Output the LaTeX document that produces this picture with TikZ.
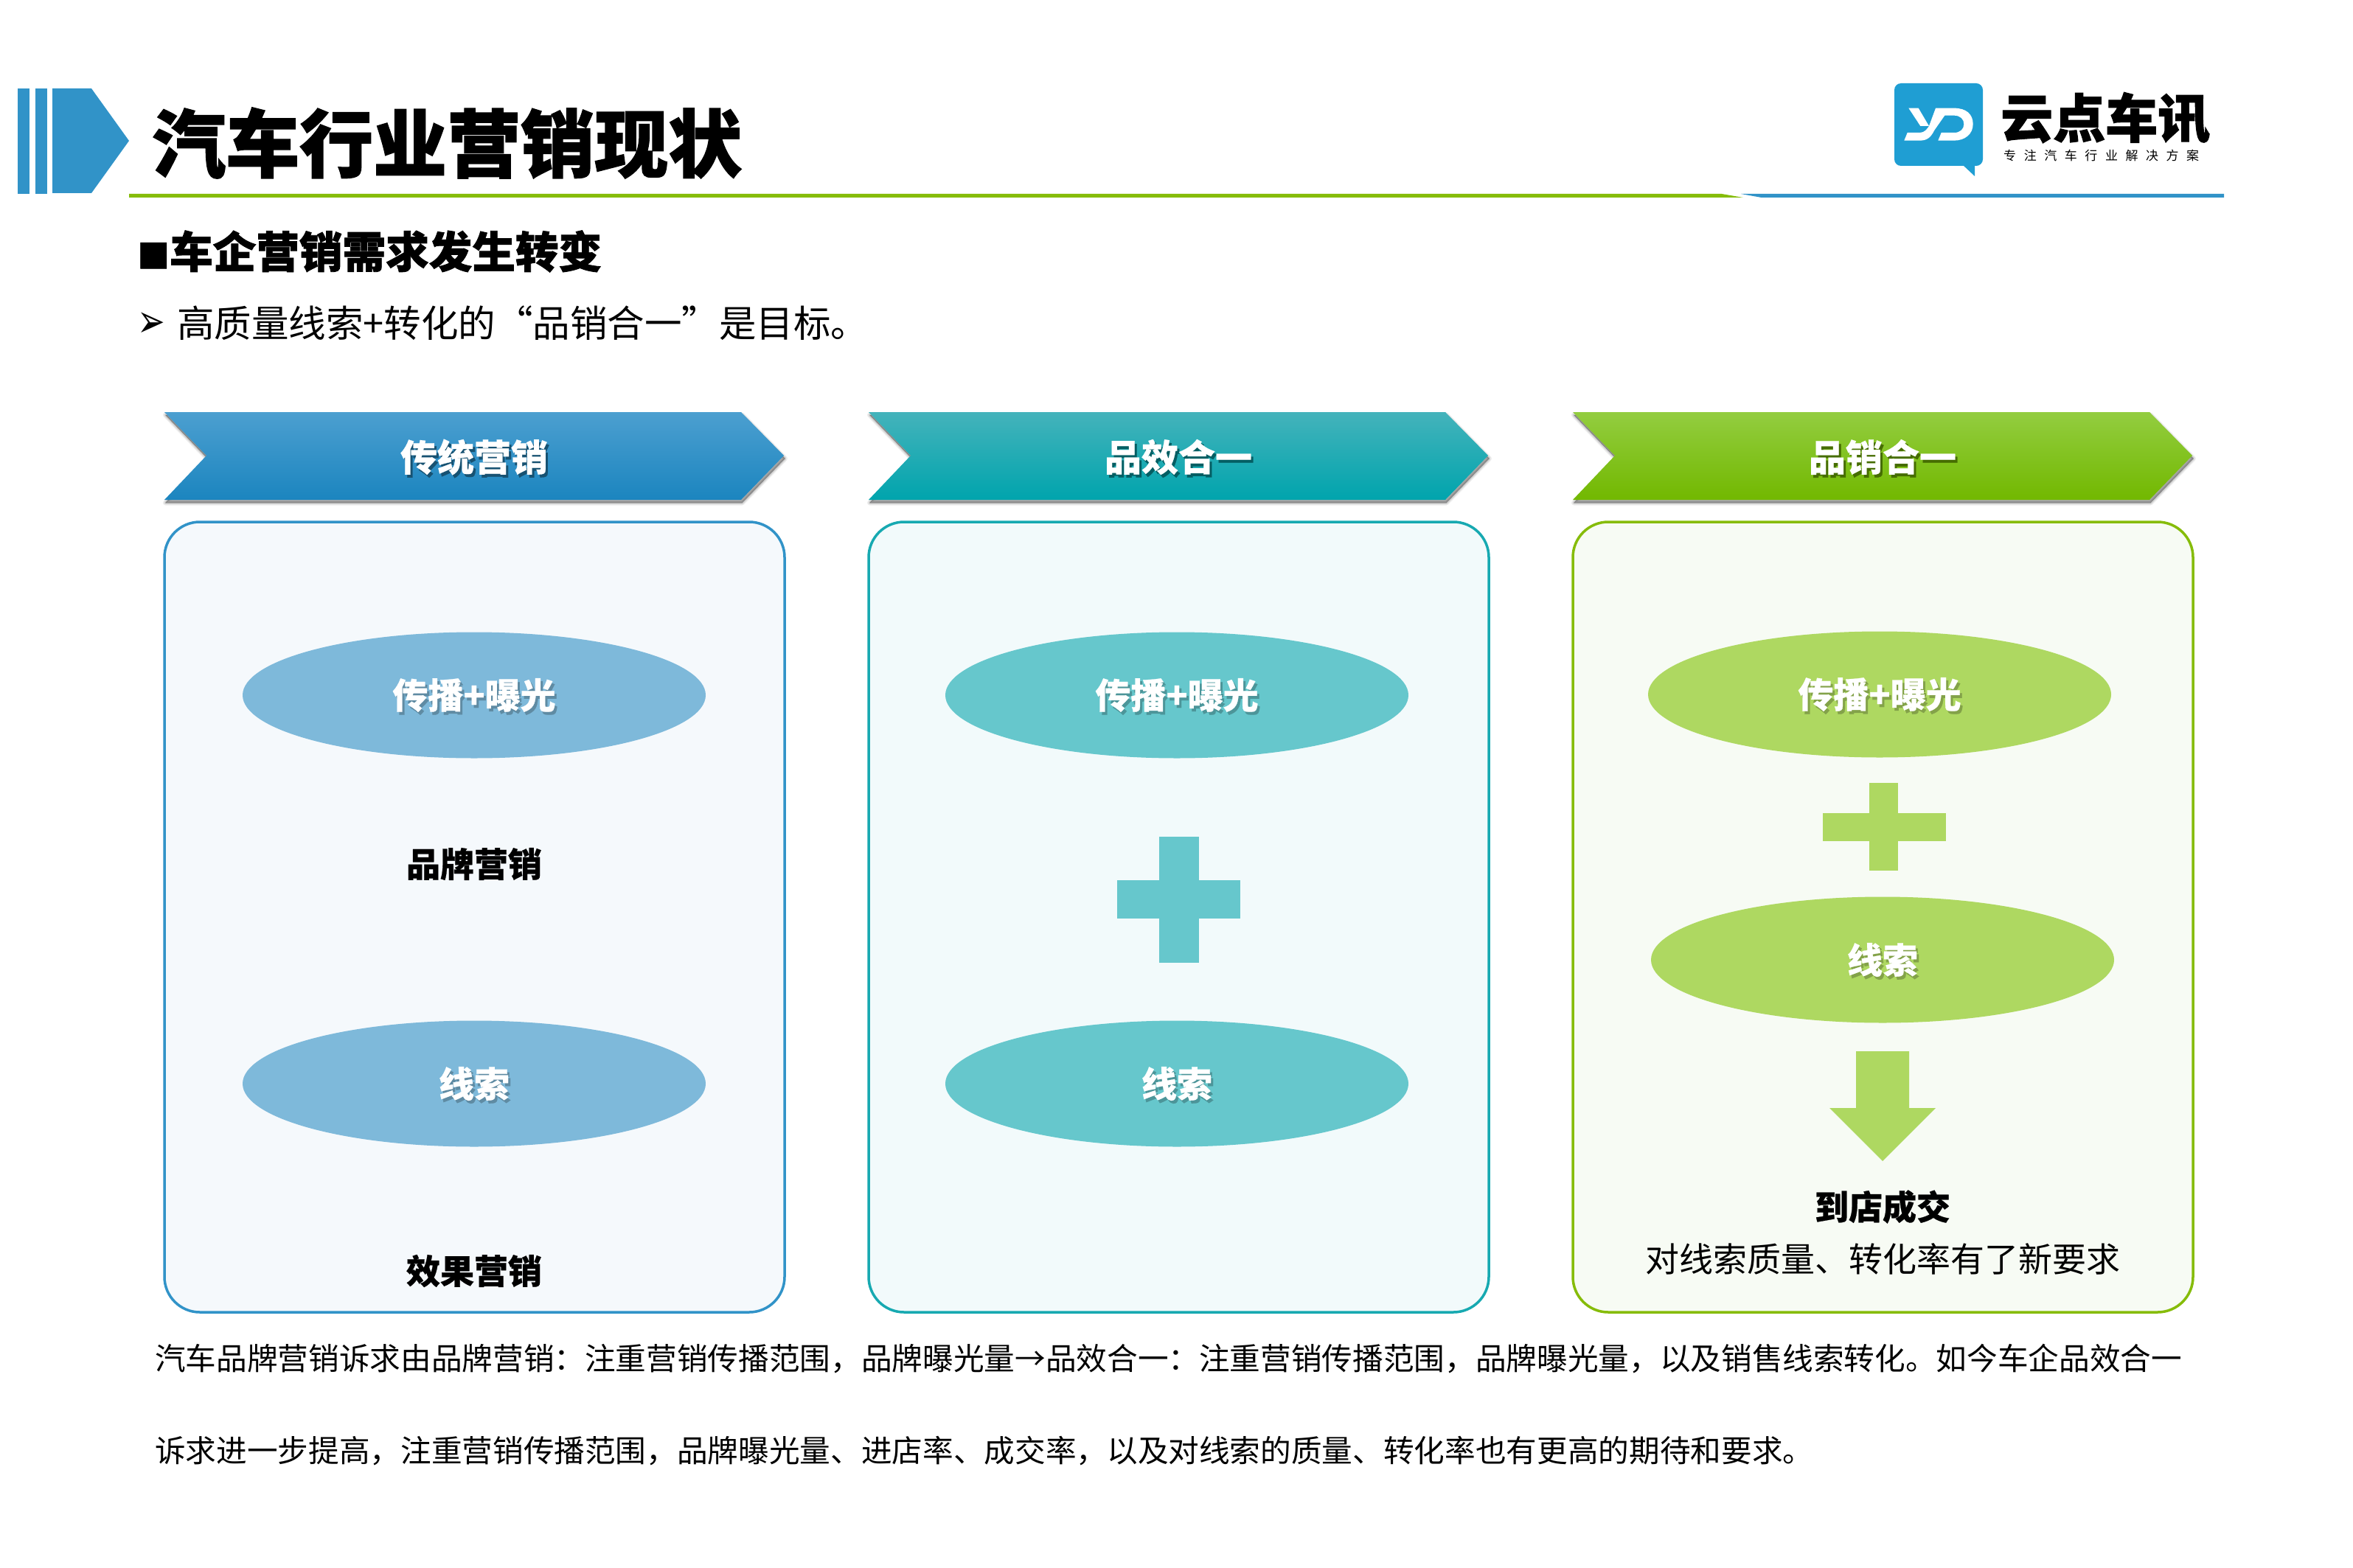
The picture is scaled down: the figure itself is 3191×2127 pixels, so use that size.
\documentclass[tikz,border=0pt]{standalone}
\usepackage{fontspec}
\usepackage{graphicx}
\setmainfont{Noto Sans CJK SC}
\newfontfamily\cjkx[BoldFeatures={FakeBold=1.4}]{Noto Sans CJK SC}
\newfontfamily\cjky[BoldFeatures={FakeBold=0.5}]{Noto Sans CJK SC}
\newfontfamily\djv{DejaVu Sans}
\usetikzlibrary{shapes.geometric}
\definecolor{cBlue}{HTML}{3193C8}
\definecolor{cBlueEll}{HTML}{7EB9DA}
\definecolor{cBlueFill}{HTML}{F5F9FC}
\definecolor{cBlueA}{HTML}{4C9FD0}
\definecolor{cBlueB}{HTML}{2A95D0}
\definecolor{cBlueC}{HTML}{1B85BF}
\definecolor{cTeal}{HTML}{17A9B1}
\definecolor{cTealEll}{HTML}{66C7CC}
\definecolor{cTealFill}{HTML}{F2FAFB}
\definecolor{cTealA}{HTML}{44B3BB}
\definecolor{cTealB}{HTML}{07ABB5}
\definecolor{cTealC}{HTML}{00A4AD}
\definecolor{cGreen}{HTML}{86BC0A}
\definecolor{cGreenEll}{HTML}{AED861}
\definecolor{cGreenFill}{HTML}{F7FBF4}
\definecolor{cGreenA}{HTML}{93CD40}
\definecolor{cGreenB}{HTML}{7FC702}
\definecolor{cGreenC}{HTML}{72B800}
\definecolor{cLogo}{HTML}{1F9ED3}
\newcommand{\fs}[1]{\fontsize{#1}{#1}\selectfont}
\newcommand{\shtxt}[2]{\rlap{\kern3pt\smash{\raisebox{-4pt}{\textcolor{#1}{#2}}}}#2}
\def\chevpath{(223,559) -- (1005,559) -- (1063,618) -- (1005,678) -- (223,678) -- (280,618) -- cycle}
\newcommand{\column}[2]{% dx, colour name
  \begin{scope}[shift={(#1,0)}]
    \foreach \w/\o in {7/.07,4/.10,1/.16}
      \filldraw[black,opacity=\o,line width=\w pt,line join=round,shift={(1.5,4)}] \chevpath;
    \path[top color=#2A,middle color=#2B,bottom color=#2C,shading angle=0] \chevpath;
    \draw[draw=#2,fill=#2Fill,line width=3.5pt,rounded corners=48pt] (223,708) rectangle (1064,1780);
  \end{scope}}
\tikzset{
  pill/.style={ellipse,inner sep=0pt,minimum width=628pt,minimum height=171pt,text=white,font=\cjky\bfseries\fs{48}},
  hdtxt/.style={text=white,font=\cjky\bfseries\fs{50},inner sep=0pt},
  boldlab/.style={text=black,font=\cjky\bfseries\fs{46},inner sep=0pt},
  plain/.style={text=black,inner sep=0pt}
}
\begin{document}
\begin{tikzpicture}[x=1pt,y=-1pt]
\useasboundingbox (0,0) rectangle (3191,2127);
\fill[white] (0,0) rectangle (3191,2127);
% header mark
\fill[cBlue] (24,120) rectangle (40,263);
\fill[cBlue] (48,120) rectangle (64,263);
\fill[cBlue] (71,120) -- (124,120) -- (175,191) -- (124,262) -- (71,262) -- cycle;
% header rule
\fill[cGreen] (175,263) -- (2335,263) -- (2364,268) -- (175,268) -- cycle;
\fill[cBlue] (2361,263) -- (3016,263) -- (3016,268) -- (2389,268) -- cycle;
\node[plain,anchor=west,font=\cjkx\bfseries\fs{100}] (title) at (206,194) {汽车行业营销现状};
% logo
\fill[cLogo,rounded corners=9pt] (2569,113) rectangle (2689,225);
\fill[cLogo] (2662,224) -- (2678,239) -- (2678,224) -- cycle;
\begin{scope}[shift={(2560,105)},x=.3333pt,y=-.3333pt]
  \fill[white] (85,125) -- (125,125) -- (168,198) -- (133,198) -- cycle;
  \fill[white] (195,125) -- (270,125) .. controls (320,125) and (347,150) .. (347,190)
     .. controls (347,230) and (315,257) .. (270,257) -- (205,257) -- (218,225) -- (270,225)
     .. controls (295,225) and (310,210) .. (310,190) .. controls (310,170) and (295,155) .. (270,155)
     -- (232,155) -- (190,215) .. controls (175,245) and (160,257) .. (130,257)
     -- (67,257) -- (80,225) -- (130,225) .. controls (150,225) and (160,210) .. (168,198) -- cycle;
\end{scope}
\node[plain,anchor=west,font=\cjkx\bfseries\fs{71}] (brand) at (2713,160) {云点车讯};
\node[plain,anchor=west,font=\fs{17}] (slogan) at (2717,211) {\hbox to 265pt{专\hfil 注\hfil 汽\hfil 车\hfil 行\hfil 业\hfil 解\hfil 决\hfil 方\hfil 案}};
% headings
\node[plain,anchor=west,font=\cjkx\bfseries\fs{58.6}] (sub) at (186,341) {{\fs{44}■}车企营销需求发生转变};
\node[plain,anchor=west,font=\djv\fs{36}] (bullet) at (186,441) {\scalebox{1.25}[1.75]{➢}};
\node[plain,anchor=west,font=\fs{50.5}] (goal) at (240,438) {高质量线索+转化的“品销合一”是目标。};
% columns
\column{0}{cBlue}
\column{955}{cTeal}
\column{1910}{cGreen}
% column 1
\node[hdtxt] (h1) at (643,620) {\shtxt{black!45!cBlueB}{传统营销}};
\node[pill,fill=cBlueEll] (e11) at (643,943) {\shtxt{black!25!cBlueEll}{传播+曝光}};
\node[boldlab] (l1) at (643,1172) {品牌营销};
\node[pill,fill=cBlueEll] (e12) at (643,1470) {\shtxt{black!25!cBlueEll}{线索}};
\node[boldlab] (l2) at (643,1724) {效果营销};
% column 2
\node[hdtxt] (h2) at (1598,620) {\shtxt{black!45!cTealB}{品效合一}};
\node[pill,fill=cTealEll] (e21) at (1596,943) {\shtxt{black!25!cTealEll}{传播+曝光}};
\fill[cTealEll] (1572,1135) rectangle (1626,1306);
\fill[cTealEll] (1515,1194) rectangle (1682,1246);
\node[pill,fill=cTealEll] (e22) at (1596,1470) {\shtxt{black!25!cTealEll}{线索}};
% column 3
\node[hdtxt] (h3) at (2553,620) {\shtxt{black!45!cGreenB}{品销合一}};
\node[pill,fill=cGreenEll] (e31) at (2549,942) {\shtxt{black!25!cGreenEll}{传播+曝光}};
\fill[cGreenEll] (2535,1062) rectangle (2574,1181);
\fill[cGreenEll] (2472,1103) rectangle (2639,1141);
\node[pill,fill=cGreenEll] (e32) at (2553,1302) {\shtxt{black!25!cGreenEll}{线索}};
\fill[cGreenEll] (2517,1426) -- (2589,1426) -- (2589,1503) -- (2625,1503) -- (2553,1575) -- (2481,1503) -- (2517,1503) -- cycle;
\node[boldlab] (l3) at (2553,1637) {到店成交};
\node[plain,font=\fs{46}] (l4) at (2553,1708) {对线索质量、转化率有了新要求};
% bottom text
\node[plain,anchor=west,font=\fs{41.65}] (p1) at (210,1843) {汽车品牌营销诉求由品牌营销：注重营销传播范围，品牌曝光量→品效合一：注重营销传播范围，品牌曝光量，以及销售线索转化。如今车企品效合一};
\node[plain,anchor=west,font=\fs{41.65}] (p2) at (210,1968) {诉求进一步提高，注重营销传播范围，品牌曝光量、进店率、成交率，以及对线索的质量、转化率也有更高的期待和要求。};
\end{tikzpicture}
\end{document}
